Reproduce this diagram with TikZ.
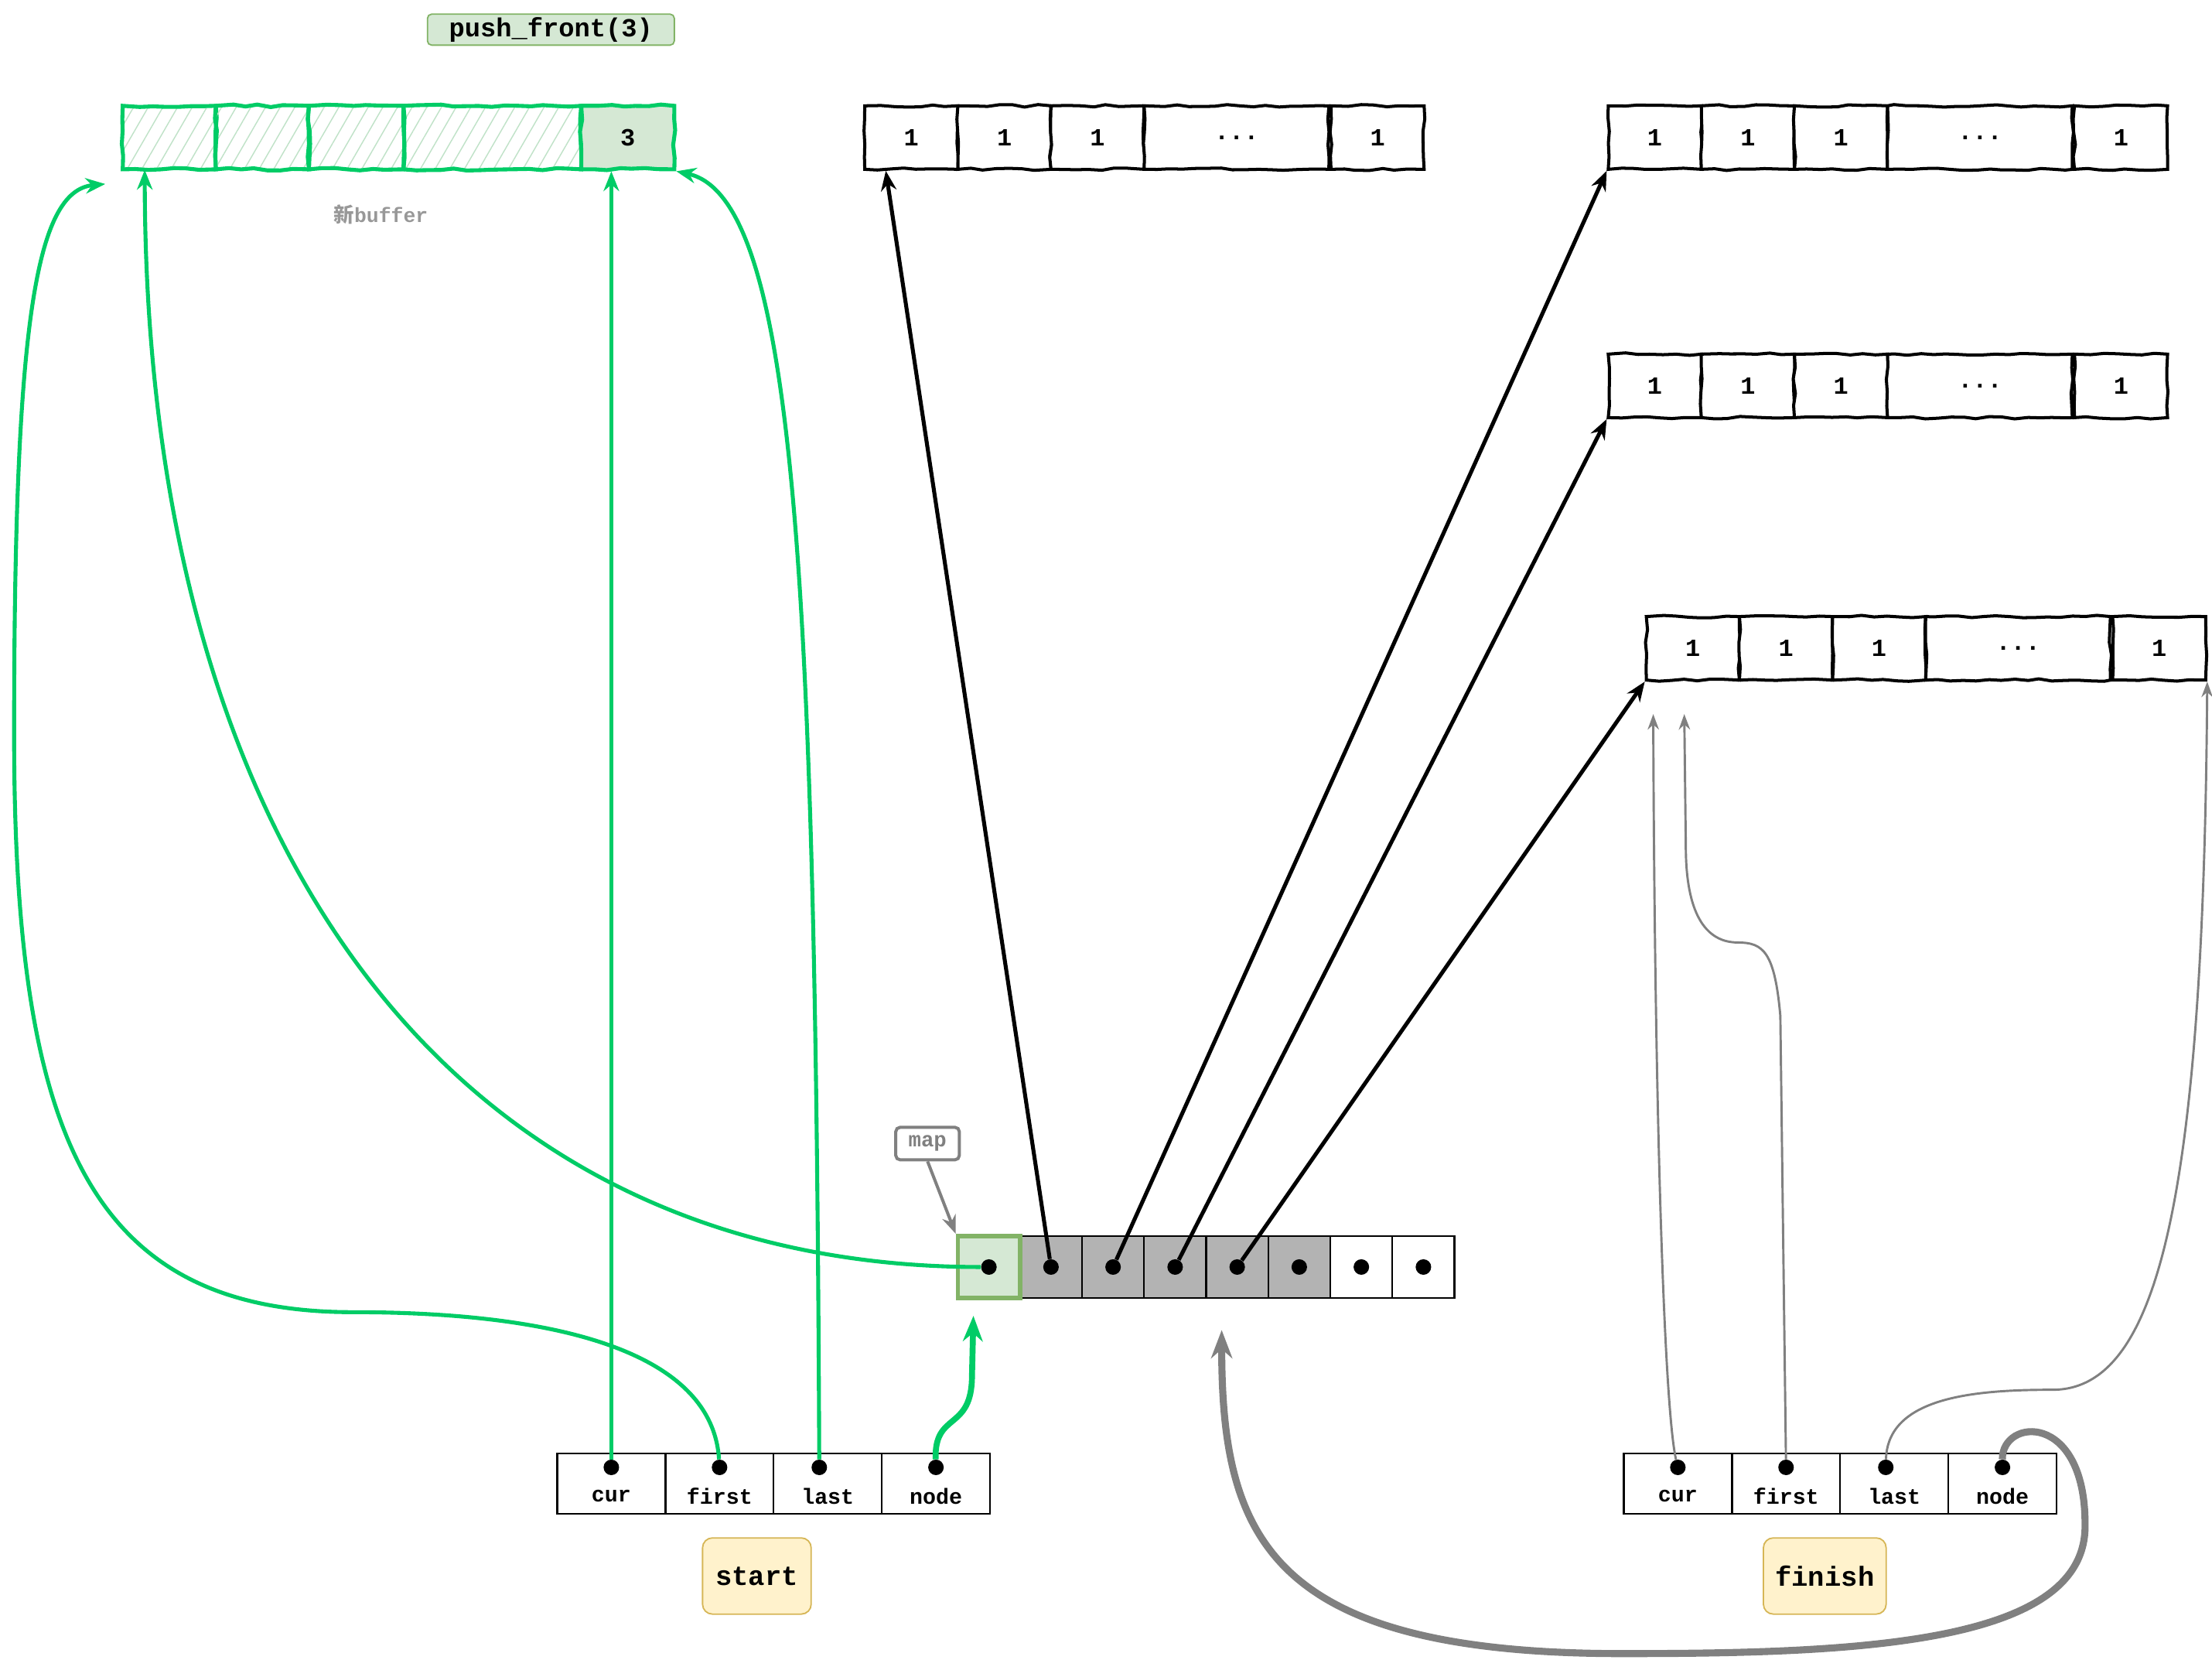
\documentclass[tikz,border=0pt]{standalone}
\usepackage{fontspec}
\setmonofont{Liberation Mono}
\newfontfamily\cjk{Noto Sans CJK SC}
\usetikzlibrary{arrows.meta,patterns.meta,decorations.pathmorphing,calc}

\tikzset{
  rough/.style={decorate, decoration={random steps, segment length=9pt, amplitude=0.9pt}},
  onecell/.style={draw, line width=2.2pt, fill=white, minimum height=45pt, inner sep=0pt,
    font=\ttfamily\bfseries\fontsize{17.5}{17.5}\selectfont, rough},
  newbox/.style={draw=gbright, line width=2.8pt, minimum height=45pt, inner sep=0pt,
    font=\ttfamily\bfseries\fontsize{17.5}{17.5}\selectfont, rough},
  hatched/.style={pattern={Lines[angle=60, distance=9pt, line width=0.8pt]}, pattern color=hatch},
  mapcell/.style={draw, line width=1.3pt, minimum width=44pt, minimum height=44pt, inner sep=0pt},
  itcell/.style={draw, line width=1.3pt, minimum width=76.7pt, minimum height=43pt, inner sep=0pt},
  itlabel/.style={font=\ttfamily\bfseries\fontsize{15.5}{15.5}\selectfont, inner sep=0pt},
  dot/.style={circle, fill=black, minimum size=11pt, inner sep=0pt},
  tagbox/.style={draw=ydark, fill=ypale, line width=1pt, rounded corners=7pt, minimum height=54pt,
    font=\ttfamily\bfseries\fontsize{19.5}{19.5}\selectfont},
  blkarrow/.style={line width=2.8pt, -{Stealth[length=14pt, width=11pt]}},
  garrow/.style={draw=gbright, line width=2.8pt, -{Stealth[length=14pt, width=11pt]}},
  gthick/.style={draw=gbright, line width=4.2pt, -{Stealth[length=18pt, width=14pt]}},
  graythin/.style={draw=linegray, line width=1.6pt, -{Stealth[length=11pt, width=8pt]}},
  graythick/.style={draw=linegray, line width=5pt, -{Stealth[length=20pt, width=15pt]}}
}

\begin{document}
\begin{tikzpicture}[x=1pt, y=-1pt]
\definecolor{gbright}{RGB}{0,204,102}
\definecolor{gpale}{RGB}{213,232,212}
\definecolor{gdark}{RGB}{130,179,102}
\definecolor{hatch}{RGB}{192,226,200}
\definecolor{mapgray}{RGB}{179,179,179}
\definecolor{linegray}{RGB}{128,128,128}
\definecolor{ypale}{RGB}{255,242,204}
\definecolor{ydark}{RGB}{214,182,86}
\pgfmathsetseed{7}

\useasboundingbox (0,0) rectangle (1568,1176);

\node[draw=gdark, fill=gpale, line width=1pt, rounded corners=3pt, minimum width=175pt, minimum height=22pt,
  inner sep=0pt, font=\ttfamily\bfseries\fontsize{18.5}{18.5}\selectfont] (title) at (390.5,21) {push\_front(3)};

% new buffer
\node[newbox, hatched, minimum width=66pt] (n1) at (120,97.5) {};
\node[newbox, hatched, minimum width=66pt] (n2) at (186,97.5) {};
\node[newbox, hatched, minimum width=67pt] (n3) at (252.5,97.5) {};
\node[newbox, hatched, minimum width=126pt] (n4) at (349,97.5) {};
\node[newbox, fill=gpale, minimum width=66pt] (n5) at (445,97.5) {3};
\node[text=mapgray!85!black, font=\ttfamily\bfseries\fontsize{14.5}{14.5}\selectfont] (bufname) at (270,152) {{\cjk 新}buffer};

% buffers of 1s
\foreach \nm/\xo/\yo in {a/613/97.5, b/1140/97.5, c/1140/273.5, d/1167/459.5} {
  \node[onecell, minimum width=66pt] (\nm1) at ({\xo+33},{\yo}) {1};
  \node[onecell, minimum width=66pt] (\nm2) at ({\xo+99},{\yo}) {1};
  \node[onecell, minimum width=66pt] (\nm3) at ({\xo+165},{\yo}) {1};
  \node[onecell, minimum width=131pt] (\nm4) at ({\xo+263.5},{\yo}) {...};
  \node[onecell, minimum width=66pt] (\nm5) at ({\xo+363.5},{\yo}) {1};
}

% map
\foreach \k in {1,...,5} \node[mapcell, fill=mapgray] (m\k) at ({701+44*\k},898) {};
\foreach \k in {6,7} \node[mapcell, fill=white] (m\k) at ({701+44*\k},898) {};
\node[mapcell, fill=gpale, draw=gdark, line width=3.2pt] (m0) at (701,898) {};
\foreach \k in {0,...,7} \node[dot] (p\k) at (m\k.center) {};
\node[draw=linegray, text=linegray, fill=white, line width=2.2pt, rounded corners=3pt, minimum width=45pt,
  minimum height=23pt, inner sep=0pt, font=\ttfamily\bfseries\fontsize{15}{15}\selectfont] (mapname) at (657.5,810.5) {map};
\draw[draw=linegray, line width=2.2pt, -{Stealth[length=13pt, width=10pt]}] (mapname.south) -- (m0.north west);

% iterators
\foreach \it/\xo in {s/395, f/1151} {
  \foreach \k/\lab in {1/cur, 2/first, 3/last, 4/node} {
    \node[itcell] (\it\k) at ({\xo+76.7*\k-38.35},1051.5) {};
    \node[itlabel] at ([yshift=-9pt]\it\k.center) {\lab};
  }
}
\node[dot] (sCur) at ([yshift=11.5pt]s1.center) {};
\node[dot] (sFirst) at ([yshift=11.5pt]s2.center) {};
\node[dot] (sLast) at ([xshift=-6pt, yshift=11.5pt]s3.center) {};
\node[dot] (sNode) at ([yshift=11.5pt]s4.center) {};
\node[dot] (fCur) at ([yshift=11.5pt]f1.center) {};
\node[dot] (fFirst) at ([yshift=11.5pt]f2.center) {};
\node[dot] (fLast) at ([xshift=-6pt, yshift=11.5pt]f3.center) {};
\node[dot] (fNode) at ([yshift=11.5pt]f4.center) {};
\node[tagbox, minimum width=77pt] (start) at (536.5,1117) {start};
\node[tagbox, minimum width=87pt] (finish) at (1293.5,1117) {finish};

% map to buffers
\draw[blkarrow] (p1) -- ($(a1.south west)+(16,0)$);
\draw[blkarrow] (p2) -- (b1.south west);
\draw[blkarrow] (p3) -- (c1.south west);
\draw[blkarrow] (p4) -- (d1.south west);

% start
\coordinate (bufIn) at ($(n1.south west)+(-12,10)$);
\draw[garrow] (sCur) -- (sCur |- n5.south);
\draw[garrow] (sFirst) .. controls (505,960) and (400,930) .. (250,930)
  .. controls (60,930) and (10,800) .. (10,520) .. controls (10,230) and (25,135) .. (bufIn);
\draw[garrow] (sLast) .. controls (578,420) and (565,140) .. (n5.south east);
\draw[garrow] (p0) .. controls (320,898) and (103,600) .. ($(n1.south west)+(16,0)$);
\draw[gthick] (sNode) .. controls (662,1000) and (689,1015) .. (689,975) -- ($(m0.south)+(-11,11)$);

% finish
\coordinate (dIn1) at ($(d1.south west)+(6,23)$);
\coordinate (dIn2) at ($(d1.south west)+(28,23)$);
\coordinate (mapIn) at ($(m4.south)+(-11,22)$);
\draw[graythin] (fCur) .. controls (1180,1000) and (1173,800) .. (dIn1);
\draw[graythin] (fFirst) -- (1262,720) .. controls (1258,675) and (1250,668) .. (1232,668)
  .. controls (1205,668) and (1195,640) .. (1195,600) -- (dIn2);
\draw[graythin] (fLast) .. controls (1338,990) and (1400,985) .. (1455,985)
  .. controls (1530,985) and (1562,850) .. (d5.south east);
\draw[graythick] (fNode) .. controls (1419,1005) and (1478,1000) .. (1478,1080)
  .. controls (1480,1165) and (1320,1172) .. (1150,1172) .. controls (900,1172) and (866,1090) .. (mapIn);
\end{tikzpicture}
\end{document}
